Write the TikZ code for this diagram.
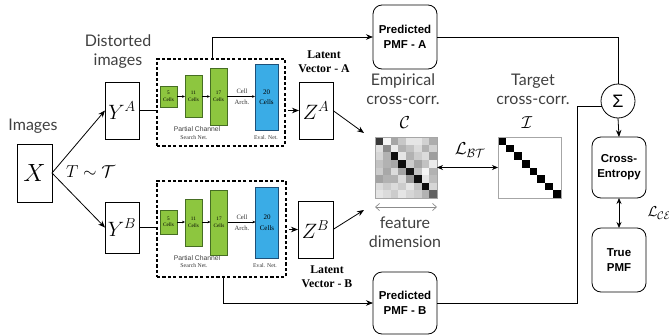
\documentclass[tikz,border=0pt]{standalone}
\usepackage{fontspec}
\usetikzlibrary{arrows.meta,calc}
\newfontfamily\lblfont{Lato}
\newfontfamily\boldsans{Liberation Sans}
\newfontfamily\timesfont{Liberation Serif}
\definecolor{lblgray}{RGB}{64,64,64}
\definecolor{cellgreen}{RGB}{141,198,63}
\definecolor{cellgreenedge}{RGB}{70,110,35}
\definecolor{cellblue}{RGB}{58,172,230}
\definecolor{cellblueedge}{RGB}{30,80,120}

\begin{document}
\begin{tikzpicture}[x=1pt,y=-1pt,
  every node/.style={inner sep=0pt, outer sep=0pt},
  lbl/.style={text=lblgray, font=\lblfont\fontsize{16}{19}\selectfont, align=center},
  mbox/.style={draw, line width=0.8pt, fill=white},
  rbox/.style={draw, line width=0.8pt, rounded corners=9pt, align=center,
    font=\boldsans\bfseries\fontsize{11.5}{15}\selectfont},
  dbox/.style={draw, line width=1.3pt, dash pattern=on 3.2pt off 2.2pt},
  gcell/.style={draw=cellgreenedge, fill=cellgreen, line width=0.5pt, align=center,
    font=\timesfont\fontsize{5.2}{6.4}\selectfont},
  bcell/.style={draw=cellblueedge, fill=cellblue, line width=0.5pt, align=center,
    font=\timesfont\fontsize{7}{10.5}\selectfont},
  tiny/.style={font=\timesfont\fontsize{5.8}{6}\selectfont, text=black!80},
  celllbl/.style={font=\timesfont\fontsize{6.6}{7}\selectfont, text=black!80},
  pcs/.style={font=\boldsans\fontsize{6.8}{7}\selectfont, text=black!75},
  latent/.style={font=\timesfont\bfseries\fontsize{11.8}{14}\selectfont, align=center},
  arr/.style={-{Stealth[length=7pt,width=5.5pt]}, line width=0.8pt},
  darr/.style={{Stealth[length=6pt,width=5pt]}-{Stealth[length=6pt,width=5pt]}, line width=0.8pt},
  sarr/.style={-{Stealth[length=3pt,width=2.6pt]}, line width=0.5pt},
  line/.style={line width=0.8pt}]
\useasboundingbox (0,0) rectangle (669,335);

% inputs and augmentations
\node[lbl] (imglbl) at (33,126) {Images};
\node[mbox, minimum width=35pt, minimum height=58pt, font=\fontsize{24}{24}\selectfont] (X) at (34.5,173) {$X$};
\node[lbl] (distlbl) at (118,52) {Distorted\\images};
\node[mbox, minimum width=34pt, minimum height=57pt, font=\fontsize{21}{21}\selectfont] (YA) at (122,110.5) {$Y^A$};
\node[mbox, minimum width=34pt, minimum height=51pt, font=\fontsize{21}{21}\selectfont] (YB) at (122,227.5) {$Y^B$};
\draw[arr] (X.east) -- (YA.west);
\draw[arr] (X.east) -- (YB.west);
\node[anchor=west, font=\fontsize{17}{17}\selectfont] (tlbl) at (66,172) {$T\sim\mathcal{T}$};

% search / evaluation networks
\node[dbox, minimum width=128pt, minimum height=87pt] (dA) at (221,102.5) {};
\node[dbox, minimum width=129pt, minimum height=96pt] (dB) at (221.5,229) {};
\draw[line] (YA.east) -- (YA.east -| dA.west);
\draw[line] (YB.east) -- (YB.east -| dB.west);

% branch A cells
\node[gcell, minimum width=17pt, minimum height=21pt] (a5) at (168.5,96.5) {5\\Cells};
\node[gcell, minimum width=17pt, minimum height=42pt] (a11) at (193.5,96.5) {11\\Cells};
\node[gcell, minimum width=17pt, minimum height=57pt] (a17) at (218.5,96.5) {17\\Cells};
\node[bcell, minimum width=23pt, minimum height=66pt] (a20) at (266.5,97) {20\\Cells};
\draw[sarr] (a5.east) -- (a11.west |- a5.east);
\draw[sarr] (a11.east |- a5.east) -- (a17.west |- a5.east);
\draw[sarr] (a17.east |- a5.east) -- (a20.west |- a5.east);
\node[celllbl] (aarch1) at (242,91) {Cell};
\node[celllbl] (aarch2) at (242,102) {Arch.};
\node[pcs] (apc) at (197,129) {Partial Channel};
\node[tiny] (asn) at (194,137.5) {Search Net.};
\node[tiny] (aen) at (266,137.5) {Eval. Net.};

% branch B cells
\node[gcell, minimum width=17pt, minimum height=24pt] (b5) at (168.5,222) {5\\Cells};
\node[gcell, minimum width=17pt, minimum height=47pt] (b11) at (193.5,222.5) {11\\Cells};
\node[gcell, minimum width=17pt, minimum height=65pt] (b17) at (219,222.5) {17\\Cells};
\node[bcell, minimum width=23pt, minimum height=71pt] (b20) at (267,222.5) {20\\Cells};
\draw[sarr] (b5.east) -- (b11.west |- b5.east);
\draw[sarr] (b11.east |- b5.east) -- (b17.west |- b5.east);
\draw[sarr] (b17.east |- b5.east) -- (b20.west |- b5.east);
\node[celllbl] (barch1) at (242,217) {Cell};
\node[celllbl] (barch2) at (242,228) {Arch.};
\node[pcs] (bpc) at (197,258) {Partial Channel};
\node[tiny] (bsn) at (194,266) {Search Net.};
\node[tiny] (ben) at (265,266) {Eval. Net.};

% latent vectors
\node[mbox, minimum width=34pt, minimum height=57pt, font=\fontsize{20}{20}\selectfont] (ZA) at (316,110.5) {$Z^A$};
\node[mbox, minimum width=35pt, minimum height=57pt, font=\fontsize{20}{20}\selectfont] (ZB) at (315.5,229.5) {$Z^B$};
\draw[arr] ([xshift=3pt]ZA.west -| dA.east) -- (ZA.west);
\draw[arr] ([xshift=3pt]ZB.west -| dB.east) -- (ZB.west);
\node[latent] (latA) at (324,62) {Latent\\Vector - A};
\node[latent] (latB) at (327,277) {Latent\\Vector - B};

% cross-correlation matrices
\node[minimum width=62pt, minimum height=61pt] (C) at (406,167.5) {};
\begin{scope}[shift={(C.north west)}]
  \foreach \row [count=\r from 0] in {
      {78,4,35,22,10,10,18,32},
      {12,45,8,30,24,14,30,18},
      {16,30,95,10,30,20,14,38},
      {24,30,34,95,20,35,24,8},
      {20,34,14,36,92,24,4,30},
      {36,30,30,14,40,95,10,26},
      {14,20,14,20,10,24,95,16},
      {10,14,20,10,16,20,30,62}} {
    \foreach \v [count=\c from 0] in \row {
      \fill[black!\v] (\c*7.75,\r*7.625) rectangle ++(7.75,7.625);
    }
  }
\end{scope}
\draw[black!35, line width=0.6pt] (C.north west) rectangle (C.south east);

\node[minimum width=63pt, minimum height=61pt] (I) at (529.5,167.5) {};
\begin{scope}[shift={(I.north west)}]
  \foreach \k in {0,...,7} {
    \fill[black] (\k*7.875,\k*7.625) rectangle ++(7.875,7.625);
  }
\end{scope}
\draw[black!35, line width=0.6pt] (I.north west) rectangle (I.south east);

\node[font=\fontsize{17}{17}\selectfont] (Clbl) at (405,123) {$\mathcal{C}$};
\node[font=\fontsize{17}{17}\selectfont] (Ilbl) at (527,123) {$\mathcal{I}$};
\node[lbl] (emp) at (403,89) {Empirical\\cross-corr.};
\node[lbl] (tgt) at (533,89) {Target\\cross-corr.};

\draw[arr] (ZA.east) -- ([xshift=-11pt,yshift=4pt]C.north west);
\draw[arr] (ZB.east) -- ([xshift=-11pt,yshift=-12pt]C.south west);

\draw[darr] (C.east) -- (I.west);
\node[font=\fontsize{18}{18}\selectfont] (lbt) at (470,150) {$\mathcal{L}_{\mathcal{BT}}$};

\coordinate (fd1) at ([yshift=-9pt]C.south west);
\coordinate (fd2) at ([yshift=-9pt]C.south east);
\draw[black!45, line width=0.7pt, {Straight Barb[length=4pt,width=7pt]}-{Straight Barb[length=4pt,width=7pt]}] (fd1) -- (fd2);
\node[lbl] (fdlbl) at (405,232.5) {feature\\dimension};

% classification heads
\node[rbox, minimum width=64pt, minimum height=64pt] (pA) at (405,37) {Predicted\\PMF - A};
\node[rbox, minimum width=64pt, minimum height=62pt] (pB) at (405,303) {Predicted\\PMF - B};
\draw[arr] ([xshift=-9pt]dA.north) |- (pA.west);
\draw[arr] ([xshift=1.5pt]dB.south) |- (pB.west);

\node[circle, draw, line width=0.8pt, minimum size=34pt, font=\boldsans\fontsize{18}{18}\selectfont] (sig) at (618,101) {Σ};
\draw[line] (pA.east) -| (sig.north);
\draw[line] (pB.east) -| ([xshift=-25pt]sig.200) -- (sig.200);

\node[rbox, minimum width=54pt, minimum height=61pt] (ce) at (619,167.5) {Cross-\\Entropy};
\node[rbox, minimum width=54pt, minimum height=64pt] (tp) at (619,260) {True\\PMF};
\draw[arr] (sig.south) -- (ce.north);
\draw[darr] (ce.south) -- (tp.north);
\node[anchor=west, font=\fontsize{15.5}{16}\selectfont] (lce) at (647.5,213) {$\mathcal{L}_{\mathcal{CE}}$};
\end{tikzpicture}
\end{document}
